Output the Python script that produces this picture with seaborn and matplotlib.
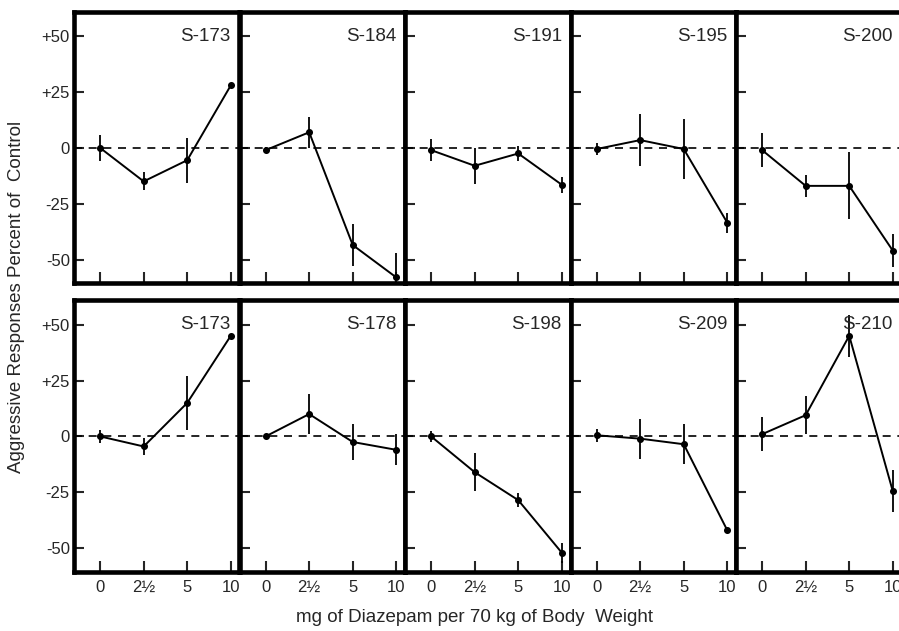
import numpy as np
import pandas as pd
import matplotlib
matplotlib.use("Agg")
import matplotlib.pyplot as plt
import seaborn as sns


# ==========================================================
# Data
# ==========================================================

DOSES = ["0", "2½", "5", "10"]
Y_TICKS = [-50, -25, 0, 25, 50]
Y_TICK_LABELS = ["-50", "-25", "0", "+25", "+50"]

TOP_SUBJECTS = ["S-173", "S-184", "S-191", "S-195", "S-200"]
TOP_MEANS = [
    [0, -15, -5.5, 28],
    [-1, 7, -43.5, -58],
    [-1, -8, -2.5, -16.5],
    [-0.5, 3.5, -0.5, -33.5],
    [-1, -17, -17, -46],
]
TOP_ERRORS = [
    [6, 4, 10, 0],
    [1.5, 7, 9.5, 11],
    [5, 8, 3.5, 3.5],
    [2.5, 11.5, 13.5, 4.5],
    [7.5, 5, 15, 7.5],
]

BOTTOM_SUBJECTS = ["S-173", "S-178", "S-198", "S-209", "S-210"]
BOTTOM_MEANS = [
    [0, -4.5, 15, 45],
    [0, 10, -2.5, -6],
    [0, -16, -28.5, -52],
    [0.5, -1, -3.5, -42],
    [1, 9.5, 45, -24.5],
]
BOTTOM_ERRORS = [
    [3, 4, 12, 0],
    [1, 9, 8, 7],
    [2.5, 8.5, 3, 4.5],
    [3, 9, 9, 1],
    [7.5, 8.5, 9.5, 9.5],
]

ROWS = [
    (TOP_SUBJECTS, TOP_MEANS, TOP_ERRORS),
    (BOTTOM_SUBJECTS, BOTTOM_MEANS, BOTTOM_ERRORS),
]


# ==========================================================
# Figure
# ==========================================================

sns.set_style("white")
plt.rcParams["font.family"] = ["Liberation Sans", "DejaVu Sans"]

W, H = 899, 631
fig = plt.figure(figsize=(W / 100, H / 100), dpi=100)
fig.patch.set_facecolor("white")

panel_w = 165.5
panel_left0 = 74
row_edges = [(11.7, 283.0), (300.0, 571.7)]

for r, (subjects, means, errors) in enumerate(ROWS):
    top, bot = row_edges[r]
    for c, subject in enumerate(subjects):
        left = panel_left0 + c * panel_w
        ax = fig.add_axes([left / W, 1 - bot / H, panel_w / W, (bot - top) / H])

        df = pd.DataFrame({
            "dose": DOSES,
            "value": means[c],
            "err": errors[c],
        })

        ax.axhline(0, color="black", lw=1.2, ls=(0, (4.8, 4.0)), zorder=1)

        sns.pointplot(
            data=df,
            x="dose",
            y="value",
            order=DOSES,
            errorbar=None,
            color="black",
            markers="o",
            markersize=4,
            linewidth=1.4,
            ax=ax,
        )

        pos = np.arange(len(DOSES))
        ax.vlines(
            pos,
            df["value"] - df["err"],
            df["value"] + df["err"],
            color="black",
            lw=1.3,
            zorder=3,
        )

        ax.set_xlim(-0.6, 3.2)
        ax.set_ylim(-60.5, 61)
        ax.set_xlabel("")
        ax.set_ylabel("")

        ax.set_yticks(Y_TICKS)
        if c == 0:
            ax.set_yticklabels(Y_TICK_LABELS, fontsize=12)
        else:
            ax.set_yticklabels([])

        ax.set_xticks(pos)
        if r == 1:
            ax.set_xticklabels(DOSES, fontsize=12)
        else:
            ax.set_xticklabels([])

        ax.tick_params(axis="y", direction="in", length=7, width=1.5,
                       left=True, right=False, pad=3)
        ax.tick_params(axis="x", direction="in", length=8, width=1.5,
                       bottom=True, top=False, pad=6)

        for spine in ax.spines.values():
            spine.set_visible(True)
            spine.set_linewidth(3.3)
            spine.set_color("black")

        ax.text(3.0, 50, subject, ha="right", va="center", fontsize=13.5)

fig.text(17 / W, 1 - 297 / H, "Aggressive Responses Percent of  Control",
         rotation=90, ha="center", va="center", fontsize=13.5)
fig.text(475 / W, 1 - 617 / H, "mg of Diazepam per 70 kg of Body  Weight",
         ha="center", va="center", fontsize=13.5)

fig.savefig("out.png", dpi=100, facecolor="white")
